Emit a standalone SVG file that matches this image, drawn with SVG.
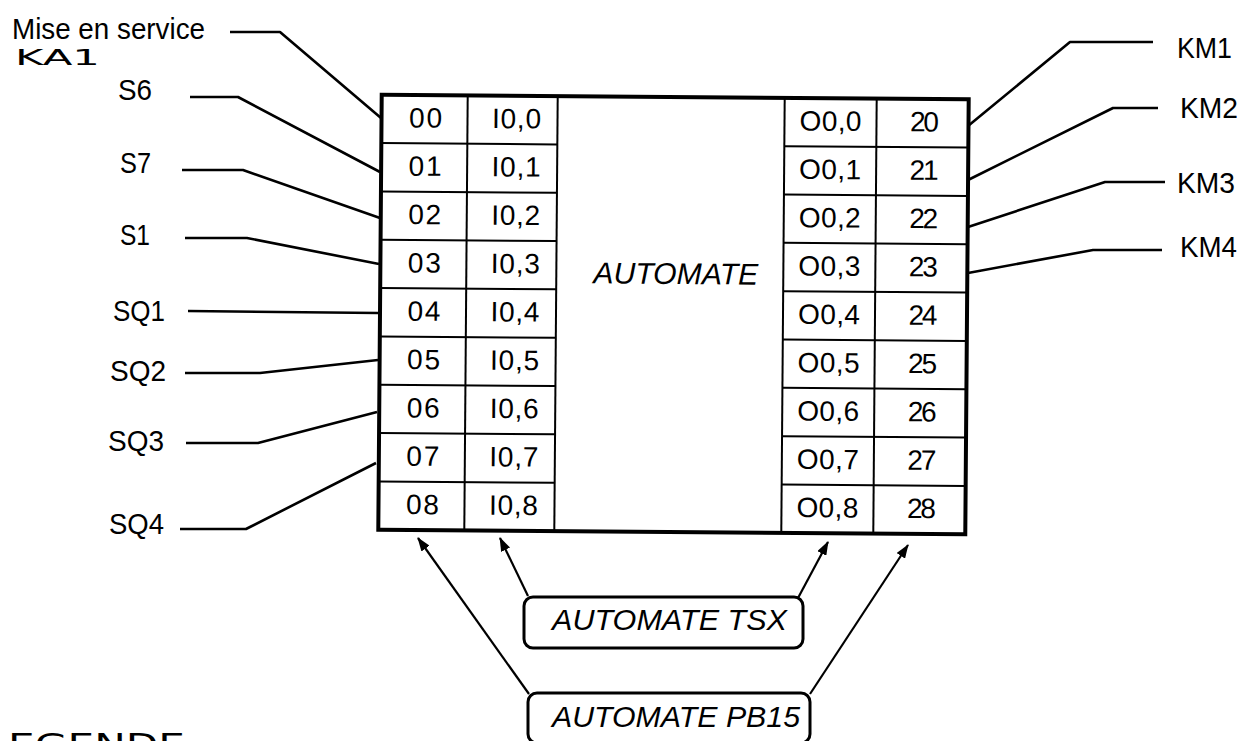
<svg xmlns="http://www.w3.org/2000/svg" width="1243" height="741" viewBox="0 0 1243 741">
<style>
  .bg{fill:#ffffff}
  .lbl{font-family:"Liberation Sans Narrow","Liberation Sans",Arial,sans-serif;font-size:30px;fill:#000}
  .cell{font-family:"Liberation Sans Narrow","Liberation Sans",Arial,sans-serif;font-size:28px;fill:#000;text-anchor:middle}
  .ital{font-family:"Liberation Sans",Arial,sans-serif;font-size:30px;font-style:italic;fill:#000}
  .geo{font-family:"DejaVu Sans",sans-serif;fill:#000}
  .outer{fill:none;stroke:#000;stroke-width:4}
  .grid{fill:none;stroke:#000;stroke-width:2}
  .wire{fill:none;stroke:#000;stroke-width:2.6;stroke-linejoin:round}
  .arrow{fill:none;stroke:#000;stroke-width:2.2;marker-end:url(#ah)}
  .tag{fill:#fff;stroke:#000;stroke-width:3}
</style>
<defs>
  <marker id="ah" viewBox="0 0 14 10" refX="13" refY="5" markerWidth="14" markerHeight="10" markerUnits="userSpaceOnUse" orient="auto">
    <path d="M0,0 L14,5 L0,10 z" fill="#000"/>
  </marker>
</defs>
<rect class="bg" x="0" y="0" width="1243" height="741"/>

<g id="automate" transform="rotate(0.45 674 314)">
  <rect class="outer" x="380" y="97" width="587" height="435"/>
  <g class="grid">
    <line x1="466" y1="97" x2="466" y2="532"/>
    <line x1="556" y1="97" x2="556" y2="532"/>
    <line x1="783" y1="97" x2="783" y2="532"/>
    <line x1="875" y1="97" x2="875" y2="532"/>
    <path d="M380,145.3H556M380,193.7H556M380,242H556M380,290.3H556M380,338.7H556M380,387H556M380,435.3H556M380,483.7H556"/>
    <path d="M783,145.3H967M783,193.7H967M783,242H967M783,290.3H967M783,338.7H967M783,387H967M783,435.3H967M783,483.7H967"/>
  </g>
  <g id="col-bornes-entree">
    <text class="cell" x="424" y="129.5" textLength="33">00</text>
    <text class="cell" x="424" y="177.8" textLength="33">01</text>
    <text class="cell" x="424" y="226.2" textLength="33">02</text>
    <text class="cell" x="424" y="274.5" textLength="33">03</text>
    <text class="cell" x="424" y="322.8" textLength="33">04</text>
    <text class="cell" x="424" y="371.2" textLength="33">05</text>
    <text class="cell" x="424" y="419.5" textLength="33">06</text>
    <text class="cell" x="424" y="467.8" textLength="33">07</text>
    <text class="cell" x="424" y="516.1" textLength="33">08</text>
  </g>
  <g id="col-entrees">
    <text class="cell" x="515" y="129.5" textLength="49">I0,0</text>
    <text class="cell" x="515" y="177.8" textLength="49">I0,1</text>
    <text class="cell" x="515" y="226.2" textLength="49">I0,2</text>
    <text class="cell" x="515" y="274.5" textLength="49">I0,3</text>
    <text class="cell" x="515" y="322.8" textLength="49">I0,4</text>
    <text class="cell" x="515" y="371.2" textLength="49">I0,5</text>
    <text class="cell" x="515" y="419.5" textLength="49">I0,6</text>
    <text class="cell" x="515" y="467.8" textLength="49">I0,7</text>
    <text class="cell" x="515" y="516.1" textLength="49">I0,8</text>
  </g>
  <text class="ital" x="593" y="284" textLength="165" lengthAdjust="spacingAndGlyphs">AUTOMATE</text>
  <g id="col-sorties">
    <text class="cell" x="829" y="129.5" textLength="62">O0,0</text>
    <text class="cell" x="829" y="177.8" textLength="62">O0,1</text>
    <text class="cell" x="829" y="226.2" textLength="62">O0,2</text>
    <text class="cell" x="829" y="274.5" textLength="62">O0,3</text>
    <text class="cell" x="829" y="322.8" textLength="62">O0,4</text>
    <text class="cell" x="829" y="371.2" textLength="62">O0,5</text>
    <text class="cell" x="829" y="419.5" textLength="62">O0,6</text>
    <text class="cell" x="829" y="467.8" textLength="62">O0,7</text>
    <text class="cell" x="829" y="516.1" textLength="62">O0,8</text>
  </g>
  <g id="col-bornes-sortie">
    <text class="cell" x="923" y="129.5" textLength="29">20</text>
    <text class="cell" x="923" y="177.8" textLength="29">21</text>
    <text class="cell" x="923" y="226.2" textLength="29">22</text>
    <text class="cell" x="923" y="274.5" textLength="29">23</text>
    <text class="cell" x="923" y="322.8" textLength="29">24</text>
    <text class="cell" x="923" y="371.2" textLength="29">25</text>
    <text class="cell" x="923" y="419.5" textLength="29">26</text>
    <text class="cell" x="923" y="467.8" textLength="29">27</text>
    <text class="cell" x="923" y="516.1" textLength="29">28</text>
  </g>
</g>

<g id="label-mise-en-service">
  <text class="lbl" style="font-family:'Liberation Sans',Arial,sans-serif;font-size:29px" x="12" y="39" textLength="193" lengthAdjust="spacingAndGlyphs">Mise en service</text>
  <text class="geo" x="15" y="65" font-size="21" textLength="85" lengthAdjust="spacingAndGlyphs">KA1</text>
</g>
<g id="label-S6"><text class="lbl" x="118" y="100" textLength="34" lengthAdjust="spacingAndGlyphs">S6</text></g>
<g id="label-S7"><text class="lbl" x="120" y="173" textLength="31" lengthAdjust="spacingAndGlyphs">S7</text></g>
<g id="label-S1"><text class="lbl" x="120" y="245" textLength="30" lengthAdjust="spacingAndGlyphs">S1</text></g>
<g id="label-SQ1"><text class="lbl" x="113" y="321" textLength="52" lengthAdjust="spacingAndGlyphs">SQ1</text></g>
<g id="label-SQ2"><text class="lbl" x="110" y="381" textLength="56" lengthAdjust="spacingAndGlyphs">SQ2</text></g>
<g id="label-SQ3"><text class="lbl" x="108" y="451" textLength="56" lengthAdjust="spacingAndGlyphs">SQ3</text></g>
<g id="label-SQ4"><text class="lbl" x="109" y="534" textLength="55" lengthAdjust="spacingAndGlyphs">SQ4</text></g>
<g id="label-KM1"><text class="lbl" x="1177" y="58" textLength="55" lengthAdjust="spacingAndGlyphs">KM1</text></g>
<g id="label-KM2"><text class="lbl" x="1180" y="118" textLength="58" lengthAdjust="spacingAndGlyphs">KM2</text></g>
<g id="label-KM3"><text class="lbl" x="1177" y="193" textLength="58" lengthAdjust="spacingAndGlyphs">KM3</text></g>
<g id="label-KM4"><text class="lbl" x="1180" y="257" textLength="57" lengthAdjust="spacingAndGlyphs">KM4</text></g>

<g id="tag-tsx">
  <rect class="tag" x="524" y="597" width="279" height="51" rx="9"/>
  <text class="ital" x="552" y="630" textLength="235" lengthAdjust="spacingAndGlyphs">AUTOMATE TSX</text>
</g>
<g id="tag-pb15">
  <rect class="tag" x="528" y="693" width="282" height="50" rx="9"/>
  <text class="ital" x="552" y="727" textLength="248" lengthAdjust="spacingAndGlyphs">AUTOMATE PB15</text>
</g>

<g id="legende">
  <text class="geo" x="8" y="755" font-size="30" textLength="177" lengthAdjust="spacingAndGlyphs">EGENDE</text>
</g>

<g id="connectors">
  <polyline class="wire" points="230,32 280,32 381,118"/>
  <polyline class="wire" points="190,97 238,97 380,172"/>
  <polyline class="wire" points="182,170 243,170 380,218"/>
  <polyline class="wire" points="185,238 247,238 379,264"/>
  <polyline class="wire" points="188,311 378,313"/>
  <polyline class="wire" points="185,373 260,373 378,360"/>
  <polyline class="wire" points="186,443 258,443 377,412"/>
  <polyline class="wire" points="180,529 246,529 376,463"/>
  <polyline class="wire" points="1153,42 1070,42 968,126"/>
  <polyline class="wire" points="1158,108 1113,108 968,180"/>
  <polyline class="wire" points="1165,182 1105,182 968,227"/>
  <polyline class="wire" points="1162,250 1093,250 968,273"/>
  <line class="arrow" x1="528" y1="596" x2="500" y2="538"/>
  <line class="arrow" x1="798" y1="598" x2="828" y2="542"/>
  <line class="arrow" x1="529" y1="694" x2="418" y2="538"/>
  <line class="arrow" x1="810" y1="694" x2="908" y2="545"/>
</g>
</svg>
